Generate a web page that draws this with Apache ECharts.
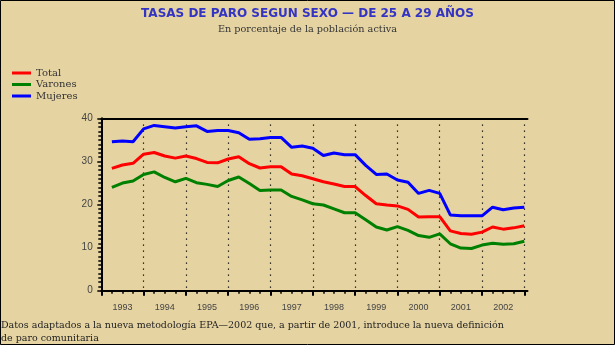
<!DOCTYPE html>
<html>
<head>
<meta charset="utf-8">
<script src="https://cdn.jsdelivr.net/npm/echarts@6/dist/echarts.min.js"></script>
<style>
  html, body { margin: 0; padding: 0; background: #e5d3a2; }
  #chart { width: 615px; height: 345px; }
</style>
</head>
<body>
<div id="chart"></div>
<script>
// quarterly rates, 1993 Q1 .. 2002 Q4 (40 quarters)
const years = ['1993', '1994', '1995', '1996', '1997', '1998', '1999', '2000', '2001', '2002']

const total = [
  28.4, 29.2, 29.6, 31.7, 32.1, 31.3, 30.8, 31.3, 30.7, 29.8,
  29.7, 30.6, 31.1, 29.5, 28.5, 28.8, 28.8, 27.1, 26.7, 26.0,
  25.3, 24.8, 24.2, 24.2, 22.1, 20.2, 19.9, 19.7, 18.9, 17.1,
  17.2, 17.2, 13.9, 13.3, 13.1, 13.6, 14.8, 14.3, 14.6, 15.1
]
const varones = [
  24.0, 25.0, 25.5, 27.0, 27.6, 26.3, 25.3, 26.1, 25.1, 24.7,
  24.2, 25.6, 26.4, 24.9, 23.3, 23.4, 23.4, 21.9, 21.1, 20.2,
  19.9, 19.0, 18.1, 18.1, 16.5, 14.8, 14.1, 14.9, 14.0, 12.8,
  12.4, 13.2, 10.9, 9.9, 9.8, 10.6, 11.0, 10.8, 10.9, 11.5
]
const mujeres = [
  34.6, 34.8, 34.6, 37.6, 38.4, 38.1, 37.8, 38.1, 38.3, 37.0,
  37.2, 37.2, 36.7, 35.2, 35.3, 35.6, 35.6, 33.3, 33.6, 33.1,
  31.4, 32.0, 31.6, 31.6, 29.1, 27.0, 27.1, 25.7, 25.2, 22.6,
  23.3, 22.6, 17.6, 17.4, 17.4, 17.4, 19.4, 18.8, 19.2, 19.4
]

const toPoints = arr => arr.map((v, i) => [i + 1, v])

// x is counted in quarters from the start of 1993
const yearStarts = years.map((y, i) => i * 4).concat([years.length * 4])
const quarterTicks = Array.from({ length: years.length * 4 + 1 }, (_, i) => i)
const yearMids = years.map((y, i) => i * 4 + 2)

const serif = 'DejaVu Serif'
const sans = 'Liberation Sans'
const xMax = 40.3

const chart = echarts.init(document.getElementById('chart'))

chart.setOption({
  backgroundColor: '#e5d3a2',
  animation: false,
  title: [
    {
      text: 'TASAS DE PARO SEGUN SEXO — DE 25 A 29 AÑOS',
      left: 'center', top: 3,
      textStyle: { fontFamily: 'DejaVu Sans', fontSize: 12, fontWeight: 'bold', color: '#3333c4' }
    },
    {
      text: 'En porcentaje de la población activa',
      left: 'center', top: 19,
      textStyle: { fontFamily: serif, fontSize: 9.7, fontWeight: 'normal', color: '#333' }
    },
    {
      text: 'Datos adaptados a la nueva metodología EPA—2002 que, a partir de 2001, introduce la nueva definición\nde paro comunitaria',
      left: -4, top: 314,
      textStyle: { fontFamily: serif, fontSize: 9.5, fontWeight: 'normal', color: '#222', lineHeight: 13 }
    }
  ],
  graphic: [{
    type: 'rect',
    shape: { x: 0.5, y: 0.5, width: 614, height: 344 },
    style: { fill: 'none', stroke: '#000', lineWidth: 1 },
    silent: true
  }],
  legend: {
    orient: 'vertical',
    left: 7, top: 63,
    icon: 'rect',
    itemWidth: 19, itemHeight: 3,
    itemGap: 1.5,
    textStyle: { fontFamily: serif, fontSize: 10, lineHeight: 10, color: '#333' },
    data: ['Total', 'Varones', 'Mujeres']
  },
  grid: { left: 101.3, right: 87.5, top: 118.5, bottom: 54.3 },
  xAxis: [
    {
      // year boundaries: long ticks and dotted lines
      type: 'value', min: 0, max: xMax, interval: 4,
      position: 'bottom',
      axisLine: { show: true, lineStyle: { color: '#000', width: 2 } },
      axisTick: { show: true, length: 5, customValues: yearStarts, lineStyle: { color: '#000', width: 2 } },
      axisLabel: { show: false },
      splitLine: { show: true, lineStyle: { color: '#000', width: 1.2, type: [1.2, 4.8] } }
    },
    {
      // quarters: short ticks, year labels in the middle
      type: 'value', min: 0, max: xMax,
      position: 'bottom',
      axisLine: { show: false },
      axisTick: { show: true, length: 3, customValues: quarterTicks, lineStyle: { color: '#000', width: 1.5 } },
      axisLabel: {
        show: true, margin: 12, customValues: yearMids,
        fontFamily: sans, fontSize: 9, color: '#444',
        formatter: v => years[Math.floor(v / 4)] || ''
      },
      splitLine: { show: false }
    },
    {
      // top frame
      type: 'value', min: 0, max: xMax, position: 'top',
      axisLine: { show: true, onZero: false, lineStyle: { color: '#000', width: 2 } },
      axisTick: { show: false }, axisLabel: { show: false }, splitLine: { show: false }
    }
  ],
  yAxis: [
    {
      type: 'value', min: 0, max: 40, interval: 10,
      offset: 2.6,
      axisLine: { show: true, lineStyle: { color: '#000', width: 2 } },
      axisTick: { show: true, length: 4, lineStyle: { color: '#000', width: 1.5 } },
      minorTick: { show: true, splitNumber: 10, length: 3, lineStyle: { color: '#000', width: 1.5 } },
      axisLabel: { fontFamily: sans, fontSize: 10, color: '#444', margin: 6 },
      splitLine: { show: false }
    },
    {
      // right frame
      type: 'value', min: 0, max: 40, position: 'right',
      axisLine: { show: true, lineStyle: { color: '#000', width: 2 } },
      axisTick: { show: false }, axisLabel: { show: false }, splitLine: { show: false }
    }
  ],
  series: [
    {
      name: 'Total', type: 'line', xAxisIndex: 0, yAxisIndex: 0,
      data: toPoints(total), showSymbol: false,
      lineStyle: { color: '#ff0000', width: 3 }, itemStyle: { color: '#ff0000' }
    },
    {
      name: 'Varones', type: 'line', xAxisIndex: 0, yAxisIndex: 0,
      data: toPoints(varones), showSymbol: false,
      lineStyle: { color: '#008000', width: 3 }, itemStyle: { color: '#008000' }
    },
    {
      name: 'Mujeres', type: 'line', xAxisIndex: 0, yAxisIndex: 0,
      data: toPoints(mujeres), showSymbol: false,
      lineStyle: { color: '#0000ff', width: 3 }, itemStyle: { color: '#0000ff' }
    }
  ]
})
</script>
</body>
</html>
